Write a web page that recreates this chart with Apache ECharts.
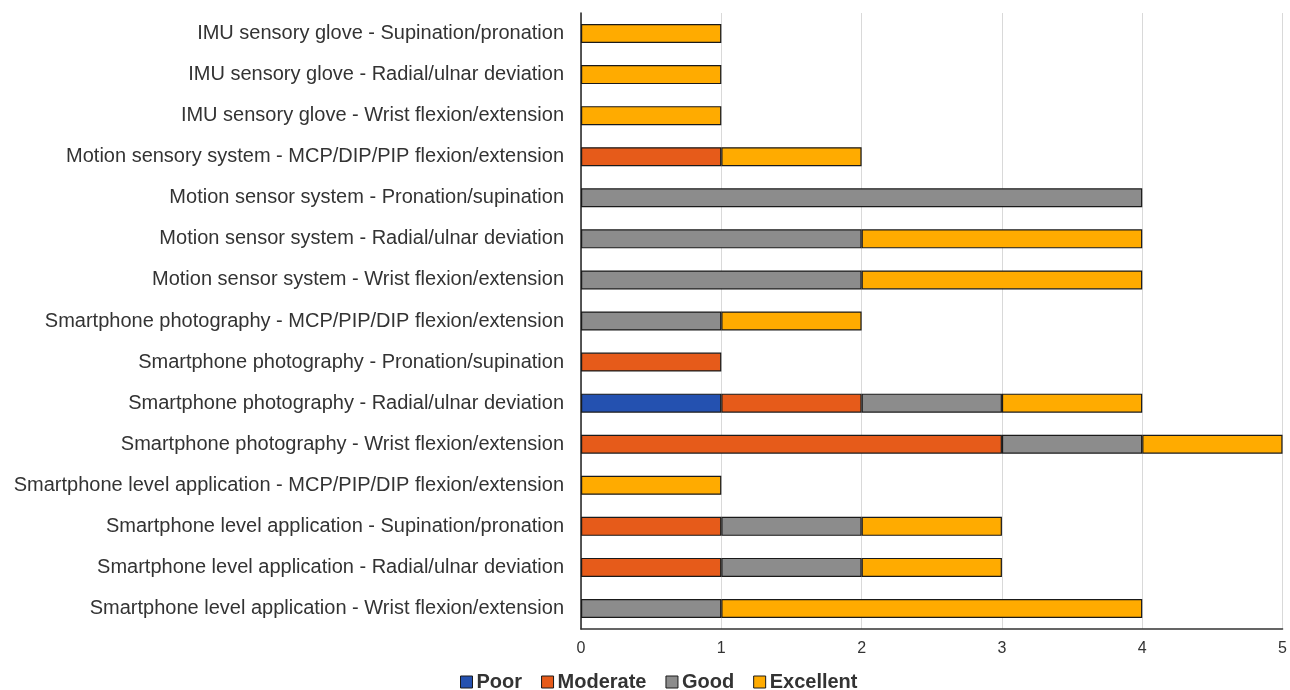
<!DOCTYPE html>
<html>
<head>
    <meta charset="utf-8">
    <title>Measurement reliability</title>
    <script src="https://cdn.jsdelivr.net/npm/echarts@6/dist/echarts.min.js"></script>
    <style>
        html, body { margin: 0; padding: 0; background: #fff; }
        #main { width: 1290px; height: 690px; }
    </style>
</head>
<body>
<div id="main"></div>
<script>
    var categories = [
        'IMU sensory glove - Supination/pronation',
        'IMU sensory glove - Radial/ulnar deviation',
        'IMU sensory glove - Wrist flexion/extension',
        'Motion sensory system - MCP/DIP/PIP flexion/extension',
        'Motion sensor system - Pronation/supination',
        'Motion sensor system - Radial/ulnar deviation',
        'Motion sensor system - Wrist flexion/extension',
        'Smartphone photography - MCP/PIP/DIP flexion/extension',
        'Smartphone photography - Pronation/supination',
        'Smartphone photography - Radial/ulnar deviation',
        'Smartphone photography - Wrist flexion/extension',
        'Smartphone level application - MCP/PIP/DIP flexion/extension',
        'Smartphone level application - Supination/pronation',
        'Smartphone level application - Radial/ulnar deviation',
        'Smartphone level application - Wrist flexion/extension'
    ];
    // '-' = no bar for that rating
    var poor      = ['-', '-', '-', '-', '-', '-', '-', '-', '-', 1, '-', '-', '-', '-', '-'];
    var moderate  = ['-', '-', '-', 1, '-', '-', '-', '-', 1, 1, 3, '-', 1, 1, '-'];
    var good      = ['-', '-', '-', '-', 4, 2, 2, 1, '-', 1, 1, '-', 1, 1, 1];
    var excellent = [1, 1, 1, 1, '-', 2, 2, 1, '-', 1, 1, 1, 1, 1, 3];

    var names  = ['Poor', 'Moderate', 'Good', 'Excellent'];
    var colors = ['#2451b0', '#e65b1a', '#8c8c8c', '#ffab00'];
    var values = [poor, moderate, good, excellent];

    var series = [];
    for (var i = 0; i < names.length; i++) {
        series.push({
            name: names[i],
            type: 'bar',
            stack: 'total',
            barWidth: 19,
            data: values[i],
            itemStyle: { color: colors[i], borderColor: '#1a1a1a', borderWidth: 1.2 }
        });
    }

    var myChart = echarts.init(document.getElementById('main'));
    var option = {
        animation: false,
        color: colors,
        grid: { left: 581, right: 6, top: 13, bottom: 61, containLabel: false },
        legend: {
            bottom: -7,
            left: 455,
            itemWidth: 12,
            itemHeight: 12,
            itemGap: 19,
            icon: 'rect',
            itemStyle: { borderColor: '#1a1a1a', borderWidth: 1 },
            textStyle: { fontFamily: 'Liberation Sans', fontSize: 20, fontWeight: 'bold', color: '#333', padding: [0, 0, 0, -1] },
            data: names
        },
        xAxis: {
            type: 'value',
            min: 0,
            max: 5,
            interval: 1,
            axisLine: { show: true, lineStyle: { color: '#333', width: 1.5 } },
            axisTick: { show: false },
            axisLabel: { fontFamily: 'Liberation Sans', fontSize: 16, color: '#333', margin: 12 },
            splitLine: { show: true, lineStyle: { color: '#d9d9d9', width: 1 } }
        },
        yAxis: {
            type: 'category',
            inverse: true,
            data: categories,
            axisLine: { show: true, lineStyle: { color: '#222', width: 1.5 } },
            axisTick: { show: false },
            axisLabel: { fontFamily: 'Liberation Sans', fontSize: 20, color: '#333', margin: 17 }
        },
        series: series
    };
    myChart.setOption(option);
</script>
</body>
</html>
